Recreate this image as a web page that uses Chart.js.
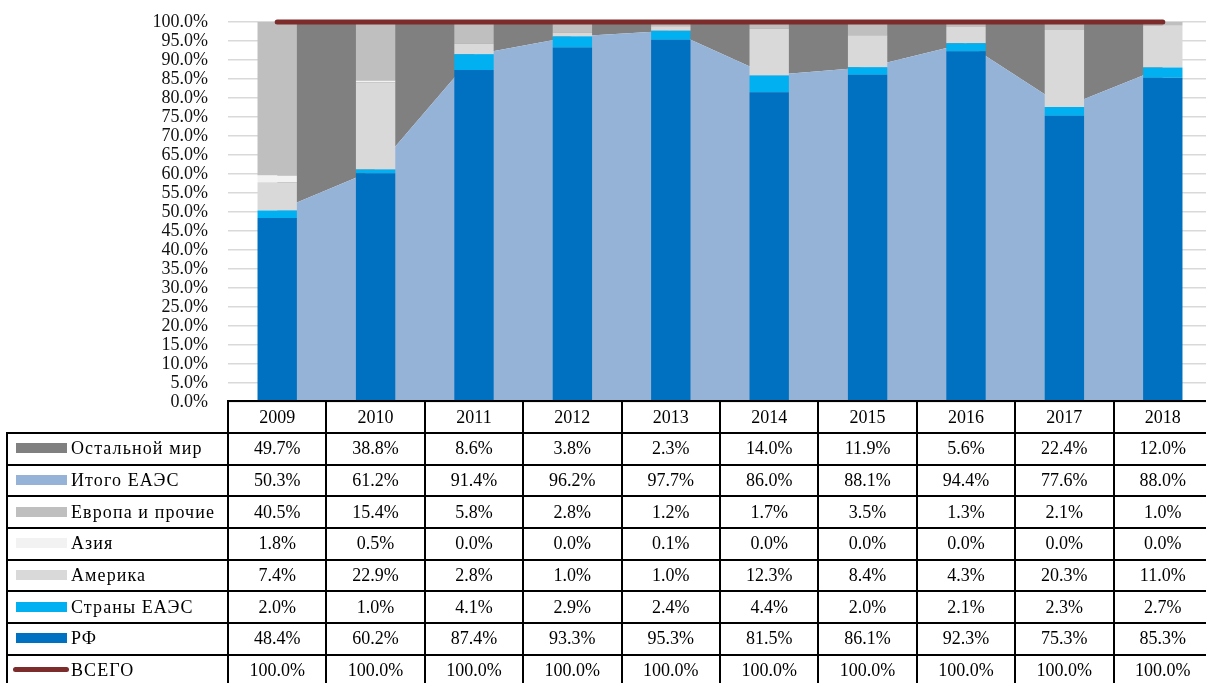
<!DOCTYPE html>
<html>
<head>
<meta charset="utf-8">
<script src="https://cdn.jsdelivr.net/npm/chart.js@4.4.1/dist/chart.umd.min.js"></script>
<style>
  html, body { margin: 0; padding: 0; overflow: hidden; background: #fff; }
  #wrap { position: relative; width: 1214px; height: 683px; }
  #chart { position: absolute; left: 0; top: 0; }
  #tbl { position: absolute; left: 6px; top: 400px; border-collapse: collapse; table-layout: fixed;
         font-family: "Liberation Serif", serif; font-size: 18px; color: #000; }
  #tbl td { border: 2px solid #000; text-align: center; padding: 0; height: 30px; white-space: nowrap; overflow: hidden; }
  #tbl td.name { text-align: left; letter-spacing: 1.1px; }
  #tbl td.blank { border: none; }
  .key { display: inline-block; width: 51px; height: 10px; margin: 0 4px 0 8px; vertical-align: 1px; }
  .key.line { width: 56px; height: 5px; border-radius: 3px; margin-left: 5px; margin-right: 2px; vertical-align: 4px; }
</style>
</head>
<body>
<div id="wrap">
  <canvas id="chart" width="1214" height="683"></canvas>
  <table id="tbl"></table>
</div>
<script>
var years = ["2009", "2010", "2011", "2012", "2013", "2014", "2015", "2016", "2017", "2018"];
var restWorld = [49.7, 38.8, 8.6, 3.8, 2.3, 14.0, 11.9, 5.6, 22.4, 12.0];
var totalEaeu = [50.3, 61.2, 91.4, 96.2, 97.7, 86.0, 88.1, 94.4, 77.6, 88.0];
var europe = [40.5, 15.4, 5.8, 2.8, 1.2, 1.7, 3.5, 1.3, 2.1, 1.0];
var asia = [1.8, 0.5, 0.0, 0.0, 0.1, 0.0, 0.0, 0.0, 0.0, 0.0];
var america = [7.4, 22.9, 2.8, 1.0, 1.0, 12.3, 8.4, 4.3, 20.3, 11.0];
var eaeuCountries = [2.0, 1.0, 4.1, 2.9, 2.4, 4.4, 2.0, 2.1, 2.3, 2.7];
var rf = [48.4, 60.2, 87.4, 93.3, 95.3, 81.5, 86.1, 92.3, 75.3, 85.3];
var total = [100, 100, 100, 100, 100, 100, 100, 100, 100, 100];

var colors = {
  rest: "#808080", eaeu: "#95b3d7", europe: "#bfbfbf", asia: "#f2f2f2",
  america: "#d9d9d9", countries: "#00b0f0", rf: "#0070c0", total: "#7b2c2b"
};

function bar(label, data, color) {
  return { type: "bar", label: label, data: data, backgroundColor: color, stack: "bars", order: 2,
           barPercentage: 0.4, categoryPercentage: 1, borderWidth: 0 };
}

new Chart(document.getElementById("chart"), {
  data: {
    labels: years,
    datasets: [
      { type: "line", label: "Итого ЕАЭС", data: totalEaeu, stack: "area", order: 3, fill: "origin",
        backgroundColor: colors.eaeu, borderWidth: 0, pointRadius: 0, tension: 0 },
      { type: "line", label: "Остальной мир", data: restWorld, stack: "area", order: 3, fill: "-1",
        backgroundColor: colors.rest, borderWidth: 0, pointRadius: 0, tension: 0 },
      bar("РФ", rf, colors.rf),
      bar("Страны ЕАЭС", eaeuCountries, colors.countries),
      bar("Америка", america, colors.america),
      bar("Азия", asia, colors.asia),
      bar("Европа и прочие", europe, colors.europe),
      { type: "line", label: "ВСЕГО", data: total, stack: "total", order: 1, fill: false, clip: false,
        borderColor: colors.total, borderWidth: 5, borderCapStyle: "round", pointRadius: 0 }
    ]
  },
  options: {
    responsive: false,
    animation: false,
    devicePixelRatio: 1,
    layout: { padding: { top: 22, right: 2, bottom: 281, left: 0 } },
    plugins: { legend: { display: false }, tooltip: { enabled: false } },
    scales: {
      x: { stacked: true, display: false, offset: true },
      y: {
        stacked: true, min: 0, max: 100,
        afterFit: function (s) { s.width = 228; s.paddingTop = 10; s.paddingBottom = 10; },
        border: { display: false },
        grid: { color: "#d9d9d9", lineWidth: 1.5, drawTicks: false },
        ticks: {
          stepSize: 5, autoSkip: false, padding: 20, color: "#111",
          font: { family: "Liberation Serif", size: 18 },
          callback: function (v) { return v.toFixed(1) + "%"; }
        }
      }
    }
  }
});

// data table below the plot
var rows = [
  ["Остальной мир", restWorld, colors.rest],
  ["Итого ЕАЭС", totalEaeu, colors.eaeu],
  ["Европа и прочие", europe, colors.europe],
  ["Азия", asia, colors.asia],
  ["Америка", america, colors.america],
  ["Страны ЕАЭС", eaeuCountries, colors.countries],
  ["РФ", rf, colors.rf],
  ["ВСЕГО", total, colors.total, true]
];
var html = "<colgroup><col style='width:221px'>";
years.forEach(function () { html += "<col style='width:98.4px'>"; });
html += "</colgroup><tr><td class='blank'></td>";
years.forEach(function (y) { html += "<td>" + y + "</td>"; });
html += "</tr>";
rows.forEach(function (r) {
  html += "<tr style='height:31.7px'><td class='name' style='height:29.7px'><span class='key" + (r[3] ? " line" : "") +
    "' style='background:" + r[2] + "'></span>" + r[0] + "</td>";
  r[1].forEach(function (v) { html += "<td style='height:29.7px'>" + v.toFixed(1) + "%</td>"; });
  html += "</tr>";
});
document.getElementById("tbl").innerHTML = html;
</script>
</body>
</html>
